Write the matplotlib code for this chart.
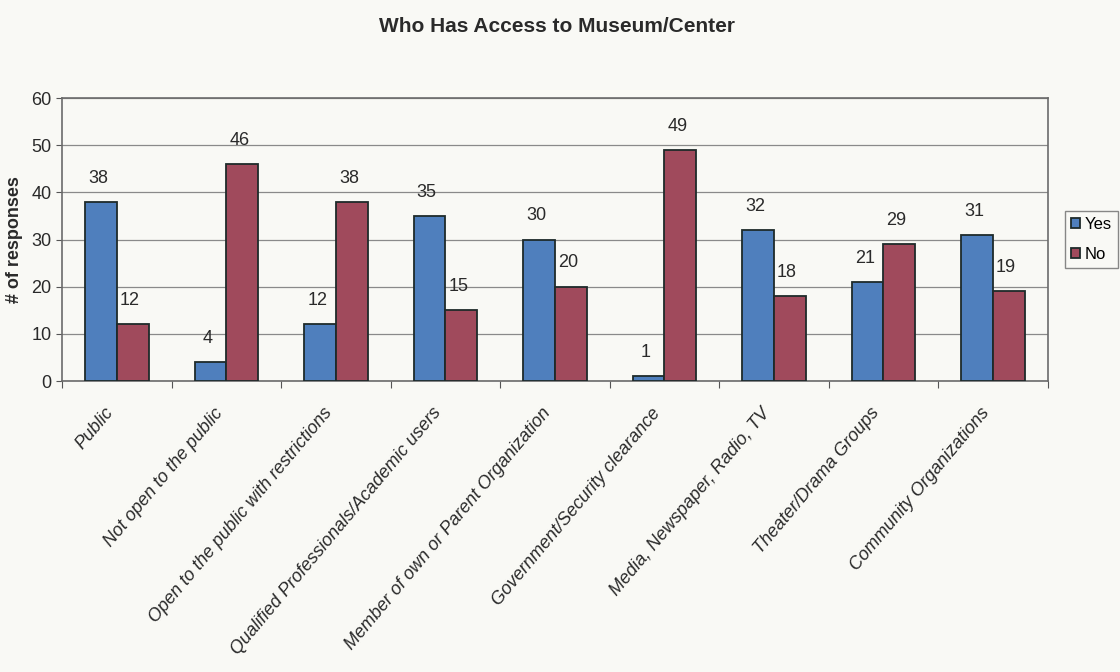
import matplotlib
matplotlib.use("Agg")
from matplotlib import pyplot as plt
import numpy as np

categories = [
    "Public",
    "Not open to the public",
    "Open to the public with restrictions",
    "Qualified Professionals/Academic users",
    "Member of own or Parent Organization",
    "Government/Security clearance",
    "Media, Newspaper, Radio, TV",
    "Theater/Drama Groups",
    "Community Organizations",
]
yes_counts = [38, 4, 12, 35, 30, 1, 32, 21, 31]
no_counts = [12, 46, 38, 15, 20, 49, 18, 29, 19]

plt.rcParams["font.family"] = ["Liberation Sans", "DejaVu Sans"]

bg = "#f9f9f5"
blue = "#4f7fbd"
red = "#a04a5c"
ink = "#2a2a2a"

fig = plt.figure(figsize=(11.2, 6.72), dpi=100, facecolor=bg)
ax = fig.add_axes([0.0554, 0.433, 0.880, 0.421])
ax.set_facecolor(bg)

x = np.arange(len(categories))
w = 0.29
bars_yes = ax.bar(x - w / 2, yes_counts, w, color=blue, edgecolor="#1e2a2a", linewidth=1.3, label="Yes", zorder=3)
bars_no = ax.bar(x + w / 2, no_counts, w, color=red, edgecolor="#1e2a2a", linewidth=1.3, label="No", zorder=3)

for bars in (bars_yes, bars_no):
    for b in bars:
        ax.annotate(f"{int(b.get_height())}", (b.get_x() + b.get_width() / 2, b.get_height()),
                    xytext=(-2, 11), textcoords="offset points", ha="center", va="bottom",
                    fontsize=13, color=ink)

ax.set_xlim(-0.5, len(categories) - 0.5)
ax.set_ylim(0, 60)
ax.set_yticks(range(0, 61, 10))
ax.yaxis.grid(True, color="#8a8a8a", linewidth=0.9, zorder=0)
ax.tick_params(axis="y", labelsize=13, length=4, color="#555555", labelcolor=ink)

# category ticks sit on the boundaries, labels under each group
ax.set_xticks(np.arange(-0.5, len(categories), 1.0))
ax.set_xticklabels([])
ax.tick_params(axis="x", length=5, color="#555555")
for i, c in enumerate(categories):
    ax.text(i - 0.12, -5, c, rotation=50, ha="right", va="top", rotation_mode="anchor",
            fontsize=13, fontstyle="italic", color=ink)

for s in ax.spines.values():
    s.set_color("#6b6b6b")
    s.set_linewidth(1.2)

ax.set_ylabel("# of responses", fontsize=13, fontweight="bold", color=ink, labelpad=6)
fig.text(0.497, 0.96, "Who Has Access to Museum/Center", ha="center", va="center",
         fontsize=15, fontweight="bold", color=ink)

leg = ax.legend(loc="center left", bbox_to_anchor=(1.018, 0.5), borderaxespad=0, fontsize=12,
                frameon=True, fancybox=False, edgecolor="#6b6b6b", facecolor=bg,
                handlelength=0.55, handleheight=0.55, handletextpad=0.25, borderpad=0.35,
                labelspacing=0.9)
leg.get_frame().set_linewidth(1.0)

fig.savefig("out.png", dpi=100, facecolor=bg)
